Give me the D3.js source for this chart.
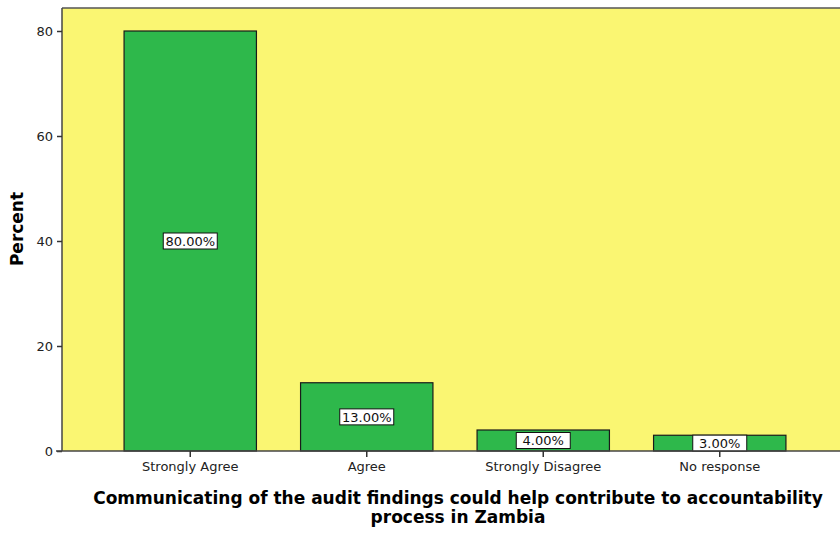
<html>
<style>
  body { margin: 0; background: #fff; }
  svg { display: block; }
  text { font-family: "DejaVu Sans", Verdana, sans-serif; }
</style>
<script src="https://d3js.org/d3.v7.min.js"></script>
<body>
<div id="chart"></div>
<script>
// data
const categories = ["Strongly Agree", "Agree", "Strongly Disagree", "No response"];
const percents = [80, 13, 4, 3];
const yTicks = [0, 20, 40, 60, 80];

const W = 840, H = 534;
const plot = {left: 62, top: 8, right: 840, bottom: 451};

const svg = d3.select("#chart").append("svg").attr("width", W).attr("height", H);

const x = d3.scaleBand().domain(categories).range([102, 808]).paddingInner(0.25).paddingOuter(0.125);
const y = d3.scaleLinear().domain([0, 80]).range([plot.bottom, 31]);

// plot background
svg.append("rect")
  .attr("x", plot.left).attr("y", plot.top)
  .attr("width", plot.right - plot.left).attr("height", plot.bottom - plot.top)
  .attr("fill", "#faf672");

svg.append("line")
  .attr("x1", plot.left).attr("x2", plot.right)
  .attr("y1", plot.top).attr("y2", plot.top)
  .attr("stroke", "#555").attr("stroke-width", 1.5);

// bars
svg.selectAll(".bar").data(categories).join("rect")
  .attr("class", "bar")
  .attr("x", d => x(d))
  .attr("y", (d, i) => y(percents[i]))
  .attr("width", x.bandwidth())
  .attr("height", (d, i) => y(0) - y(percents[i]))
  .attr("fill", "#2eb84b")
  .attr("stroke", "#1a1a1a").attr("stroke-width", 1.2);

// value labels
const lab = svg.selectAll(".lab").data(categories).join("g")
  .attr("class", "lab")
  .attr("transform", (d, i) => "translate(" + (x(d) + x.bandwidth() / 2) + "," + y(percents[i] / 2) + ")");
lab.append("rect")
  .attr("x", -27).attr("y", -8).attr("width", 54).attr("height", 16)
  .attr("fill", "#fff").attr("stroke", "#111").attr("stroke-width", 1);
lab.append("text")
  .attr("text-anchor", "middle").attr("dy", "0.36em")
  .attr("font-size", 13).attr("fill", "#111")
  .text((d, i) => percents[i].toFixed(2) + "%");

// axes
const yaxis = d3.axisLeft(y).tickValues(yTicks).tickSize(5).tickPadding(4);
const gy = svg.append("g").attr("transform", "translate(" + plot.left + ",0)").call(yaxis);
gy.select(".domain").attr("d", "M0," + plot.top + "V" + plot.bottom).attr("stroke", "#444").attr("stroke-width", 1.5);
gy.selectAll(".tick line").attr("stroke", "#333").attr("stroke-width", 1.5);
gy.selectAll("text").attr("font-size", 13).attr("fill", "#222").attr("font-family", "DejaVu Sans, Verdana, sans-serif");

const xaxis = d3.axisBottom(x).tickSize(6).tickPadding(5);
const gx = svg.append("g").attr("transform", "translate(0," + plot.bottom + ")").call(xaxis);
gx.select(".domain").attr("d", "M" + (plot.left - 6) + ",0H" + plot.right).attr("stroke", "#444").attr("stroke-width", 1.5);
gx.selectAll(".tick line").attr("stroke", "#333").attr("stroke-width", 1.5);
gx.selectAll("text").attr("font-size", 13).attr("fill", "#222").attr("font-family", "DejaVu Sans, Verdana, sans-serif");

// axis titles
svg.append("text")
  .attr("transform", "translate(23,229)rotate(-90)")
  .attr("text-anchor", "middle").attr("font-size", 17).attr("font-weight", "bold")
  .text("Percent");

const title = svg.append("text")
  .attr("text-anchor", "middle").attr("font-size", 17).attr("font-weight", "bold");
title.append("tspan").attr("x", 458).attr("y", 504)
  .text("Communicating of the audit findings could help contribute to accountability");
title.append("tspan").attr("x", 458).attr("y", 523)
  .text("process in Zambia");
</script>
</body>
</html>
